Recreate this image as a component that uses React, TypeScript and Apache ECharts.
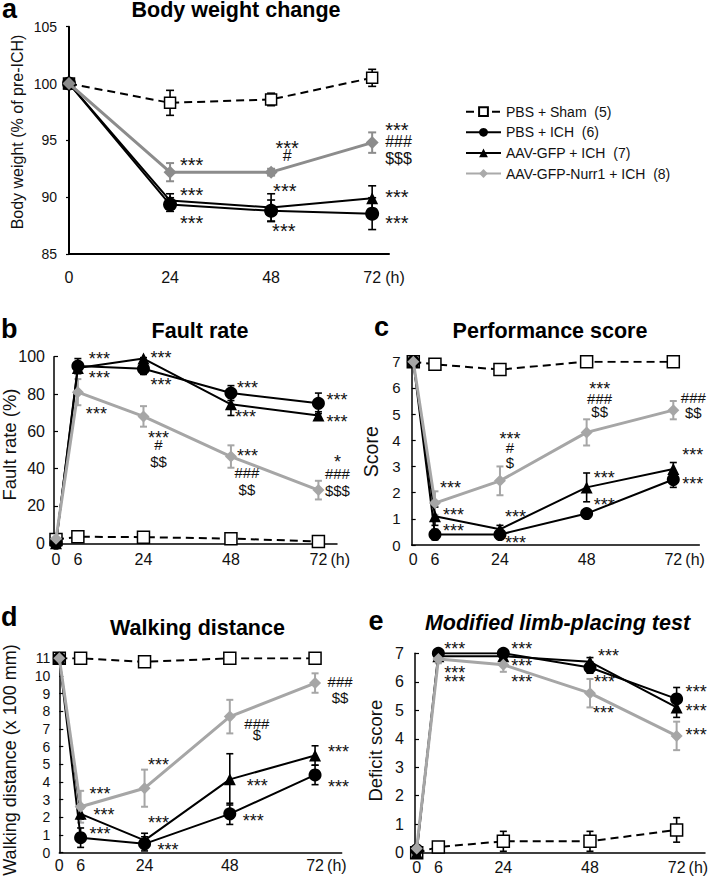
import { useEffect, useRef } from 'react';
import * as echarts from 'echarts';

const FONT = '"Liberation Sans", Arial, Helvetica, sans-serif';
const STAR_FONT = '"Liberation Sans", Arial, Helvetica, sans-serif';

const groupNames = [
  'PBS + Sham\u00a0\u00a0(5)',
  'PBS + ICH\u00a0\u00a0(6)',
  'AAV-GFP + ICH\u00a0\u00a0(7)',
  'AAV-GFP-Nurr1 + ICH\u00a0\u00a0(8)',
];

const timesWeight = [0, 24, 48, 72];
const timesBehavior = [0, 6, 24, 48, 72];

// a: Body weight change
const weightSham = [100, 98.3, 98.6, 100.5];
const weightShamErr = [0, 1.1, 0.55, 0.75];
const weightIch = [100, 89.35, 88.8, 88.55];
const weightIchErr = [0, 0.6, 0.95, 1.4];
const weightGfp = [100, 89.7, 89.1, 89.9];
const weightGfpErr = [0, 0.6, 1.2, 1.1];
const weightNurr = [100, 92.2, 92.2, 94.8];
const weightNurrErr = [0, 0.8, 0.3, 0.9];

// b: Fault rate
const faultSham = [2, 3.5, 3.3, 2.5, 1];
const faultShamErr = [0, 0, 0, 0, 0];
const faultIch = [0, 95, 93.5, 80.5, 75];
const faultIchErr = [0, 4, 3, 4, 5.5];
const faultGfp = [0, 94, 99, 74.5, 68.5];
const faultGfpErr = [0, 3, 0.5, 6, 2];
const faultNurr = [2.5, 81, 68, 46.5, 28.5];
const faultNurrErr = [0, 7, 5.5, 6, 5];

// c: Performance score
const perfSham = [7, 6.9, 6.7, 7, 7];
const perfShamErr = [0, 0.05, 0.1, 0, 0];
const perfIch = [7, 0.4, 0.4, 1.2, 2.5];
const perfIchErr = [0, 0.2, 0.15, 0.15, 0.3];
const perfGfp = [7, 1.1, 0.6, 2.2, 2.9];
const perfGfpErr = [0, 0.35, 0.15, 0.55, 0.25];
const perfNurr = [7, 1.6, 2.45, 4.3, 5.15];
const perfNurrErr = [0, 0.45, 0.55, 0.5, 0.35];

// d: Walking distance
const walkSham = [11, 11, 10.8, 11, 11];
const walkShamErr = [0, 0, 0, 0, 0];
const walkIch = [11, 0.85, 0.5, 2.2, 4.4];
const walkIchErr = [0, 0.55, 0.4, 0.6, 0.55];
const walkGfp = [11, 2.2, 0.7, 4.15, 5.5];
const walkGfpErr = [0, 0.3, 0.4, 1.45, 0.55];
const walkNurr = [11, 2.6, 3.65, 7.7, 9.6];
const walkNurrErr = [0, 0.9, 1.05, 0.95, 0.55];

// e: Modified limb-placing test
const limbSham = [0, 0.2, 0.4, 0.4, 0.8];
const limbShamErr = [0, 0.05, 0.35, 0.35, 0.43];
const limbIch = [0.1, 7, 7, 6.5, 5.4];
const limbIchErr = [0, 0.05, 0.05, 0.2, 0.4];
const limbGfp = [0, 6.9, 6.9, 6.7, 5.1];
const limbGfpErr = [0, 0.05, 0.1, 0.15, 0.35];
const limbNurr = [0.15, 6.8, 6.6, 5.6, 4.1];
const limbNurrErr = [0, 0.15, 0.25, 0.5, 0.5];

// annotations: [group, time index, text, dx(px), dy(px), align]
type Ann = [number, number, string, number, number, string];

const annWeight: Ann[] = [
  [3, 1, '***', 10, -12, 'left'],
  [2, 1, '***', 10, -10, 'left'],
  [1, 1, '***', 10, 14, 'left'],
  [3, 2, '***', 16, -29, 'center'],
  [3, 2, '#', 16, -17, 'center'],
  [2, 2, '***', 2, -21, 'left'],
  [1, 2, '***', 1, 16, 'left'],
  [3, 3, '***', 13, -17, 'left'],
  [3, 3, '###', 13, -1, 'left'],
  [3, 3, '$$$', 13, 16, 'left'],
  [2, 3, '***', 13, -6, 'left'],
  [1, 3, '***', 13, 5, 'left'],
];

const annFault: Ann[] = [
  [1, 1, '***', 11, -11, 'left'],
  [2, 1, '***', 11, 6, 'left'],
  [3, 1, '***', 8, 18, 'left'],
  [2, 2, '***', 7, -5, 'left'],
  [1, 2, '***', 7, 12, 'left'],
  [3, 2, '***', 15, 17, 'center'],
  [3, 2, '#', 15, 28, 'center'],
  [3, 2, '$$', 15, 45, 'center'],
  [1, 3, '***', 6, -9, 'left'],
  [2, 3, '***', 4, 9, 'left'],
  [3, 3, '***', 6, -5, 'left'],
  [3, 3, '###', 16, 16, 'center'],
  [3, 3, '$$', 16, 33, 'center'],
  [1, 4, '***', 8, -7, 'left'],
  [2, 4, '***', 8, 2, 'left'],
  [3, 4, '*', 19, -32, 'center'],
  [3, 4, '###', 19, -17, 'center'],
  [3, 4, '$$$', 19, 0, 'center'],
];

const annPerf: Ann[] = [
  [3, 1, '***', 5, -19, 'left'],
  [2, 1, '***', 8, -5, 'left'],
  [1, 1, '***', 8, -8, 'left'],
  [2, 2, '***', 5, -16, 'left'],
  [1, 2, '***', 5, 4, 'left'],
  [3, 2, '***', 10, -46, 'center'],
  [3, 2, '#', 10, -33, 'center'],
  [3, 2, '$', 10, -18, 'center'],
  [3, 3, '***', 13, -48, 'center'],
  [3, 3, '###', 13, -34, 'center'],
  [3, 3, '$$', 13, -21, 'center'],
  [2, 3, '***', 7, -14, 'left'],
  [1, 3, '***', 7, -13, 'left'],
  [3, 4, '###', 20, -13, 'center'],
  [3, 4, '$$', 20, 2, 'center'],
  [2, 4, '***', 9, -18, 'left'],
  [1, 4, '***', 9, 0, 'left'],
];

const annWalk: Ann[] = [
  [3, 1, '***', 9, -17, 'left'],
  [2, 1, '***', 13, -3, 'left'],
  [1, 1, '***', 9, -8, 'left'],
  [3, 2, '***', 14, -27, 'center'],
  [2, 2, '***', 14, -21, 'center'],
  [1, 2, '***', 13, 2, 'left'],
  [3, 3, '###', 27, 7, 'center'],
  [3, 3, '$', 27, 18, 'center'],
  [2, 3, '***', 17, 3, 'left'],
  [1, 3, '***', 13, 3, 'left'],
  [3, 4, '###', 25, -2, 'center'],
  [3, 4, '$$', 25, 14, 'center'],
  [2, 4, '***', 13, -8, 'left'],
  [1, 4, '***', 13, 8, 'left'],
];

const annLimb: Ann[] = [
  [1, 1, '***', 6, -8, 'left'],
  [2, 1, '***', 6, 13, 'left'],
  [3, 1, '***', 6, 19, 'left'],
  [1, 2, '***', 8, -8, 'left'],
  [2, 2, '***', 8, 6, 'left'],
  [3, 2, '***', 8, 13, 'left'],
  [2, 3, '***', 8, -10, 'left'],
  [1, 3, '***', 4, 10, 'left'],
  [3, 3, '***', 3, 16, 'left'],
  [1, 4, '***', 9, -11, 'left'],
  [2, 4, '***', 9, -1, 'left'],
  [3, 4, '***', 9, -5, 'left'],
];

const panels = [
  {
    letter: 'a', title: 'Body weight change', italic: false, yName: 'Body weight (% of pre-ICH)',
    times: timesWeight, xTicks: timesWeight,
    values: [weightSham, weightIch, weightGfp, weightNurr],
    errs: [weightShamErr, weightIchErr, weightGfpErr, weightNurrErr],
    ann: annWeight, yMin: 85, yMax: 105, yInterval: 5,
  },
  {
    letter: 'b', title: 'Fault rate', italic: false, yName: 'Fault rate (%)',
    times: timesBehavior, xTicks: timesBehavior,
    values: [faultSham, faultIch, faultGfp, faultNurr],
    errs: [faultShamErr, faultIchErr, faultGfpErr, faultNurrErr],
    ann: annFault, yMin: 0, yMax: 100, yInterval: 20,
  },
  {
    letter: 'c', title: 'Performance score', italic: false, yName: 'Score',
    times: timesBehavior, xTicks: timesBehavior,
    values: [perfSham, perfIch, perfGfp, perfNurr],
    errs: [perfShamErr, perfIchErr, perfGfpErr, perfNurrErr],
    ann: annPerf, yMin: 0, yMax: 7, yInterval: 1,
  },
  {
    letter: 'd', title: 'Walking distance', italic: false, yName: 'Walking distance (x 100 mm)',
    times: timesBehavior, xTicks: timesBehavior,
    values: [walkSham, walkIch, walkGfp, walkNurr],
    errs: [walkShamErr, walkIchErr, walkGfpErr, walkNurrErr],
    ann: annWalk, yMin: 0, yMax: 11, yInterval: 1,
  },
  {
    letter: 'e', title: 'Modified limb-placing test', italic: true, yName: 'Deficit score',
    times: timesBehavior, xTicks: timesBehavior,
    values: [limbSham, limbIch, limbGfp, limbNurr],
    errs: [limbShamErr, limbIchErr, limbGfpErr, limbNurrErr],
    ann: annLimb, yMin: 0, yMax: 7, yInterval: 1,
  },
];

// layout / style (positions in px)
const layouts = [
  { grid: { left: 69, top: 26.7, width: 320, height: 227.3 }, xMin: 0, xMax: 76, yLabelSize: 14, yLabelMargin: 12, xLabelMargin: 15, tickInside: false, axisWidth: 2, gray: '#8c8c8c', title: [236, 10], letter: [2, 9], name: [17, 132, 16], starSize: 20, symSize: 16, hDx: 13, sizes: [11, 14, 12, 13], cap: 8 },
  { grid: { left: 54, top: 356.7, width: 283, height: 186.6 }, xMin: -0.55, xMax: 77.1, yLabelSize: 16, yLabelMargin: 9, xLabelMargin: 8, tickInside: true, axisWidth: 1.5, gray: '#a6a6a6', title: [200, 331], letter: [1, 329], name: [9, 444.5, 18.5], starSize: 18, symSize: 15, hDx: 12, sizes: [12, 13, 12, 12], cap: 7 },
  { grid: { left: 411.7, top: 361.7, width: 287.6, height: 183.3 }, xMin: -0.44, xMax: 79.2, yLabelSize: 15, yLabelMargin: 11, xLabelMargin: 6, tickInside: true, axisWidth: 1.5, gray: '#a6a6a6', title: [550, 331], letter: [374, 327.3], name: [371, 451.7, 19.5], starSize: 18, symSize: 15, hDx: 12, sizes: [12, 13, 12, 12], cap: 7 },
  { grid: { left: 59.3, top: 658.3, width: 282.4, height: 194.4 }, xMin: 0, xMax: 79.5, yLabelSize: 14, yLabelMargin: 9, xLabelMargin: 5, tickInside: true, axisWidth: 1.5, gray: '#a6a6a6', title: [197.5, 627.7], letter: [1, 617.3], name: [10, 760, 18], starSize: 18, symSize: 15, hDx: 12, sizes: [12, 13, 12, 12], cap: 7 },
  { grid: { left: 415, top: 653.3, width: 290, height: 199.4 }, xMin: -0.47, xMax: 79.86, yLabelSize: 16, yLabelMargin: 11, xLabelMargin: 7, tickInside: true, axisWidth: 1.5, gray: '#a6a6a6', title: [557.5, 622.7], letter: [368.5, 620.6], name: [375, 750.7, 18.5], starSize: 18, symSize: 15, hDx: 12, sizes: [12, 13, 12, 12], cap: 7 },
];

const SYMBOLS = ['rect', 'circle', 'triangle', 'diamond'];
const ZORDER = [2.5, 3, 4, 5];

function buildOption() {
  const grids: any[] = [];
  const xAxes: any[] = [];
  const yAxes: any[] = [];
  const series: any[] = [];
  const graphics: any[] = [];

  panels.forEach((p, i) => {
    const L = layouts[i];
    grids.push({ ...L.grid, outerBoundsMode: 'none', containLabel: false });
    xAxes.push({
      type: 'value', gridIndex: i, min: L.xMin, max: L.xMax,
      axisLine: { show: true, onZero: false, lineStyle: { color: '#000', width: L.axisWidth } },
      axisTick: { show: false },
      splitLine: { show: false },
      axisLabel: { customValues: p.xTicks, color: '#111', fontSize: 16, fontFamily: FONT, margin: L.xLabelMargin, hideOverlap: false },
    });
    yAxes.push({
      type: 'value', gridIndex: i, min: p.yMin, max: p.yMax, interval: p.yInterval,
      axisLine: { show: true, onZero: false, lineStyle: { color: '#000', width: L.axisWidth } },
      axisTick: { show: true, inside: L.tickInside, length: L.tickInside ? 4 : 3, lineStyle: { color: '#000', width: 1.2 } },
      splitLine: { show: false },
      axisLabel: { color: '#111', fontSize: L.yLabelSize, fontFamily: FONT, margin: L.yLabelMargin, hideOverlap: false },
    });

    const colors = ['#000', '#000', '#000', L.gray];
    // error bars
    [0, 1, 2, 3].forEach((g) => {
      const color = colors[g];
      series.push({
        type: 'custom', xAxisIndex: i, yAxisIndex: i, silent: true, z: 2,
        data: p.times.map((t, k) => [t, p.values[g][k], p.errs[g][k]]),
        renderItem: (params: any, api: any) => {
          const x = api.value(0), y = api.value(1), e = api.value(2);
          if (!e) return { type: 'group', children: [] };
          const top = api.coord([x, y + e]);
          const bot = api.coord([x, y - e]);
          const hw = L.cap / 2;
          const st = { stroke: color, lineWidth: g === 3 ? 2 : 1.6 };
          return {
            type: 'group',
            children: [
              { type: 'line', shape: { x1: top[0], y1: top[1], x2: bot[0], y2: bot[1] }, style: st },
              { type: 'line', shape: { x1: top[0] - hw, y1: top[1], x2: top[0] + hw, y2: top[1] }, style: st },
              { type: 'line', shape: { x1: bot[0] - hw, y1: bot[1], x2: bot[0] + hw, y2: bot[1] }, style: st },
            ],
          };
        },
      });
    });
    // lines
    [0, 1, 2, 3].forEach((g) => {
      const isSham = g === 0;
      series.push({
        type: 'line', name: groupNames[g], xAxisIndex: i, yAxisIndex: i, z: ZORDER[g],
        silent: true, animation: false,
        data: p.times.map((t, k) => [t, p.values[g][k]]),
        symbol: SYMBOLS[g], symbolSize: L.sizes[g], showSymbol: true,
        lineStyle: { color: colors[g], width: g === 3 ? 3 : 2, type: isSham ? [8, 5] : 'solid' },
        itemStyle: isSham ? { color: '#fff', borderColor: '#000', borderWidth: 1.5 } : { color: colors[g], borderWidth: 0 },
        emphasis: { disabled: true },
      });
    });
    // annotations (significance marks and "(h)" unit)
    const items = p.ann.map((a) => ({ x: p.times[a[1]], y: p.values[a[0]][a[1]], text: a[2], dx: a[3], dy: a[4], align: a[5], axis: false }));
    items.push({ x: 72, y: p.yMin, text: '(h)', dx: L.hDx, dy: L.xLabelMargin + 8, align: 'left', axis: true });
    series.push({
      type: 'custom', xAxisIndex: i, yAxisIndex: i, silent: true, z: 10, clip: false,
      data: items.map((it) => [it.x, it.y]),
      renderItem: (params: any, api: any) => {
        const it = items[params.dataIndex];
        const pt = api.coord([api.value(0), api.value(1)]);
        const isStar = !it.axis && it.text.indexOf('*') >= 0;
        const fs = it.axis ? 16 : isStar ? L.starSize : L.symSize;
        const fam = isStar ? STAR_FONT : FONT;
        return {
          type: 'text',
          x: pt[0] + it.dx,
          y: pt[1] + it.dy + (isStar ? 0.23 * fs : 0),
          style: {
            text: it.text, fill: '#111', font: `${fs}px ${fam}`,
            align: it.align, verticalAlign: 'middle',
            textAlign: it.align, textVerticalAlign: 'middle',
          },
        };
      },
    });

    // titles, panel letters, y-axis names
    graphics.push({
      type: 'text', x: L.title[0], y: L.title[1], silent: true,
      style: { text: p.title, fill: '#000', font: `${p.italic ? 'italic ' : ''}bold 21.5px ${FONT}`, align: 'center', verticalAlign: 'middle', textAlign: 'center', textVerticalAlign: 'middle' },
    });
    graphics.push({
      type: 'text', x: L.letter[0], y: L.letter[1], silent: true,
      style: { text: p.letter, fill: '#000', font: `bold 27px ${FONT}`, align: 'left', verticalAlign: 'middle', textAlign: 'left', textVerticalAlign: 'middle' },
    });
    graphics.push({
      type: 'text', x: L.name[0], y: L.name[1], rotation: Math.PI / 2, silent: true,
      style: { text: p.yName, fill: '#111', font: `${L.name[2]}px ${FONT}`, align: 'center', verticalAlign: 'middle', textAlign: 'center', textVerticalAlign: 'middle' },
    });
  });

  return {
    animation: false,
    backgroundColor: '#fff',
    grid: grids,
    xAxis: xAxes,
    yAxis: yAxes,
    series,
    graphic: { elements: graphics },
    legend: {
      orient: 'vertical', left: 460, top: 99.7, itemWidth: 35, itemHeight: 11, itemGap: 6.6,
      selectedMode: false,
      textStyle: { fontSize: 14, fontFamily: FONT, color: '#111' },
      data: [
        { name: groupNames[0] },
        { name: groupNames[1] },
        { name: groupNames[2] },
        { name: groupNames[3], itemStyle: { color: '#aaaaaa' }, lineStyle: { color: '#aaaaaa' } },
      ],
    },
  };
}

export default function App() {
  const ref = useRef<HTMLDivElement>(null);
  useEffect(() => {
    if (!ref.current) return;
    const chart = echarts.init(ref.current, undefined, { renderer: 'svg' });
    chart.setOption(buildOption() as any);
    return () => chart.dispose();
  }, []);
  return <div ref={ref} style={{ position: 'absolute', left: 0, top: 0, width: 713, height: 877 }} />;
}
